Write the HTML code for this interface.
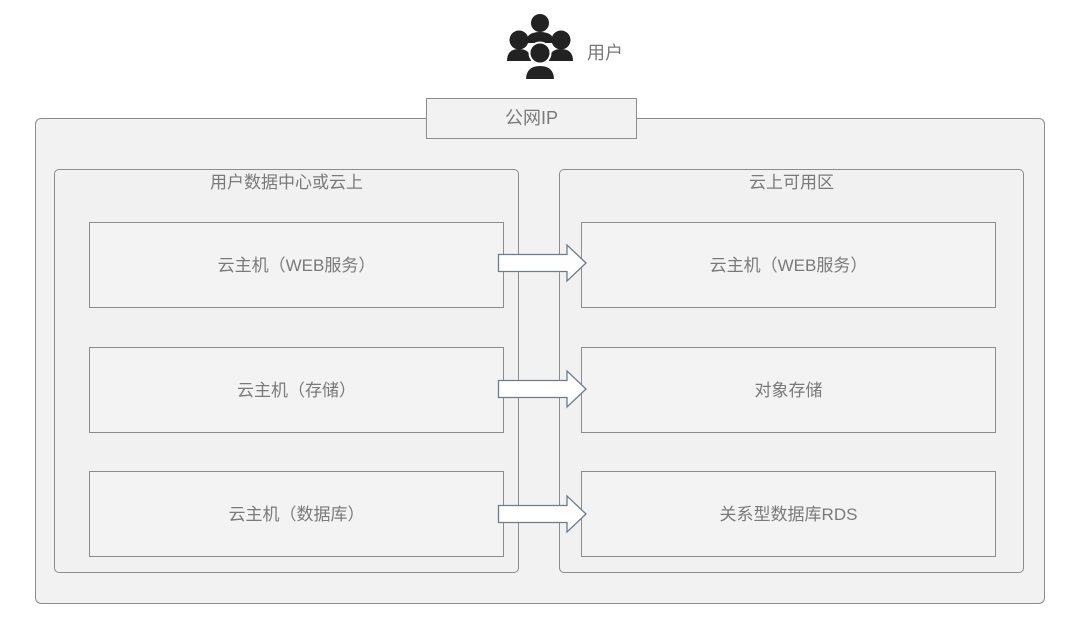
<!DOCTYPE html>
<html><head><meta charset="utf-8"><style>
body{margin:0;width:1080px;height:632px;background:#fff;position:relative;overflow:hidden;font-family:"Liberation Sans","Noto Sans CJK SC",sans-serif;color:#7a7a7a}
.b{position:absolute;box-sizing:border-box}
.outer{left:35px;top:118px;width:1010px;height:486px;border:1px solid #8c8c8c;border-radius:6px;background:#f2f2f3}
.panel{top:169px;width:465px;height:404px;border:1px solid #8c8c8c;border-radius:5px;background:#f1f1f2}
.box{width:415px;height:86px;border:1px solid #8c8c8c;background:#f3f3f3;display:flex;align-items:center;justify-content:center;font-size:17px;padding-bottom:4px}
.title{position:absolute;top:168px;width:465px;text-align:center;font-size:17px}
</style></head><body>
<svg class="b" style="left:506px;top:13px" width="68" height="68" viewBox="0 0 68 68">
<g fill="#222">
<circle cx="34" cy="10" r="9"/>
<path d="M20 30 q0-11 14-11 q14 0 14 11 z"/>
<circle cx="13" cy="27" r="9.5"/>
<path d="M1 48 q0-12 12-12 q12 0 12 12 z"/>
<circle cx="55" cy="27" r="9.5"/>
<path d="M43 48 q0-12 12-12 q12 0 12 12 z"/>
</g>
<circle cx="34" cy="40" r="10.5" fill="#222" stroke="#fff" stroke-width="2"/>
<path d="M19 67 q0-15 15-15 q15 0 15 15 z" fill="#222" stroke="#fff" stroke-width="2"/>
</svg>
<div class="b" style="left:587px;top:39px;font-size:18px;color:#777">用户</div>
<div class="b outer"></div>
<div class="b" style="left:426px;top:98px;width:211px;height:41px;border:1px solid #8c8c8c;background:#f2f2f2;display:flex;align-items:center;justify-content:center;font-size:18px;padding-bottom:4px">公网IP</div>
<div class="b panel" style="left:54px"></div>
<div class="b panel" style="left:559px"></div>
<div class="title" style="left:54px">用户数据中心或云上</div>
<div class="title" style="left:559px">云上可用区</div>
<div class="b box" style="left:89px;top:222px">云主机（WEB服务）</div>
<div class="b box" style="left:89px;top:347px">云主机（存储）</div>
<div class="b box" style="left:89px;top:471px">云主机（数据库）</div>
<div class="b box" style="left:581px;top:222px">云主机（WEB服务）</div>
<div class="b box" style="left:581px;top:347px">对象存储</div>
<div class="b box" style="left:581px;top:471px">关系型数据库RDS</div>
<svg class="b" style="left:0;top:0" width="1080" height="632">
<g fill="#fff" stroke="#6e7b8a" stroke-width="1.3">
<path d="M498.5 254.5 H567 V245 L586 263 L567 281 V271.5 H498.5 Z"/>
<path d="M498.5 380.5 H567 V371 L586 389 L567 407 V397.5 H498.5 Z"/>
<path d="M498.5 505.5 H567 V496 L586 514 L567 532 V522.5 H498.5 Z"/>
</g></svg>
</body></html>
